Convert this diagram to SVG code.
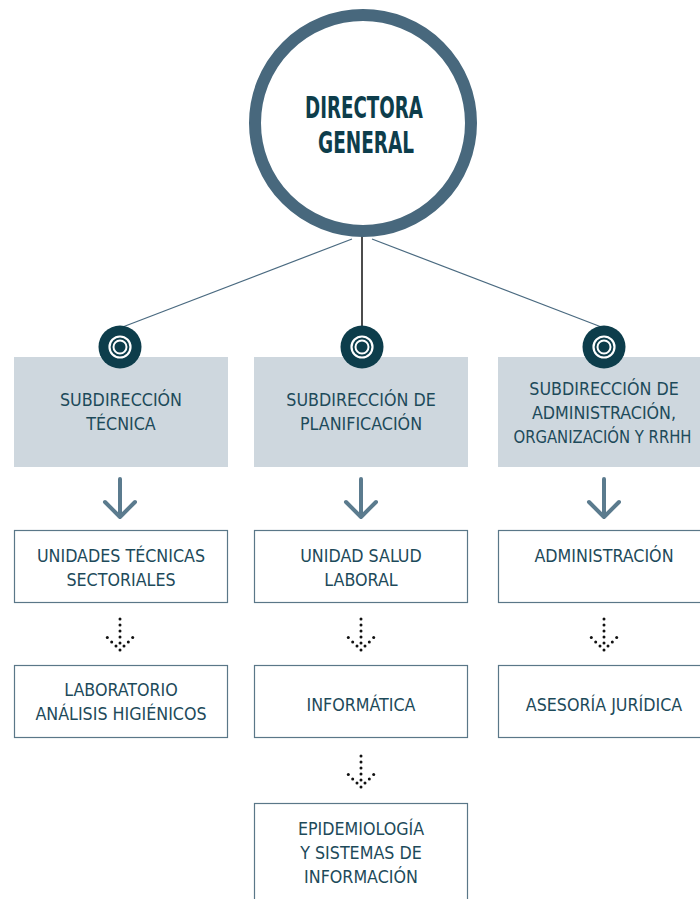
<svg xmlns="http://www.w3.org/2000/svg" width="700" height="899" viewBox="0 0 700 899">
<defs>
<style>
.t{font-family:"DejaVu Sans Condensed","DejaVu Sans",sans-serif;font-stretch:condensed;font-size:17.7px;fill:#1d4a5a;text-anchor:middle}
.h{font-family:"DejaVu Sans Condensed","DejaVu Sans",sans-serif;font-stretch:condensed;font-weight:bold;font-size:31px;fill:#0d3d4b;text-anchor:middle}
.sub{fill:#ced7de}
.box{fill:#fff;stroke:#5a7788;stroke-width:1.2}
.ln{stroke:#4a6a80;stroke-width:1.2;fill:none}
.arr{stroke:#5b7b8e;stroke-width:4;fill:none;stroke-linecap:round;stroke-linejoin:round}
</style>
<g id="icon">
<circle r="21.5" fill="#0d3d4b"/>
<circle r="10.5" fill="none" stroke="#fff" stroke-width="2.2"/>
<circle r="6.5" fill="none" stroke="#fff" stroke-width="2"/>
</g>
<g id="solid">
<path class="arr" d="M0 0 V38 M-15 23 L0 38 L15 23"/>
</g>
<g id="dots" fill="#111">
<circle cx="0" cy="0" r="1.5"/><circle cx="0" cy="6" r="1.5"/><circle cx="0" cy="12" r="1.5"/><circle cx="0" cy="18" r="1.5"/><circle cx="0" cy="24" r="1.5"/><circle cx="0" cy="31" r="1.5"/>
<circle cx="-12.7" cy="18.6" r="1.5"/><circle cx="-8.3" cy="23" r="1.5"/><circle cx="-4" cy="27" r="1.5"/>
<circle cx="12.7" cy="18.6" r="1.5"/><circle cx="8.3" cy="23" r="1.5"/><circle cx="4" cy="27" r="1.5"/>
</g>
</defs>
<rect width="700" height="899" fill="#fff"/>
<g id="connectors">
<line class="ln" x1="352" y1="239" x2="120" y2="328"/>
<line class="ln" x1="372" y1="239" x2="604" y2="328"/>
<line x1="362" y1="234" x2="362" y2="330" stroke="#111" stroke-width="1.5"/>
<use href="#solid" x="120" y="479"/>
<use href="#solid" x="361" y="479"/>
<use href="#solid" x="604" y="479"/>
<use href="#dots" x="120" y="619"/>
<use href="#dots" x="361" y="619"/>
<use href="#dots" x="604" y="619"/>
<use href="#dots" x="361" y="756"/>
</g>
<g id="directora">
<circle cx="363" cy="123" r="108" fill="#fff" stroke="#48687d" stroke-width="12"/>
<text class="h" x="364" y="118" textLength="118" lengthAdjust="spacingAndGlyphs">DIRECTORA</text>
<text class="h" x="366" y="153" textLength="96" lengthAdjust="spacingAndGlyphs">GENERAL</text>
</g>
<g id="sub-tecnica">
<rect class="sub" x="14" y="357" width="214" height="110"/>
<use href="#icon" x="120" y="347"/>
<text class="t" x="121" y="406">SUBDIRECCIÓN</text>
<text class="t" x="121" y="430">TÉCNICA</text>
</g>
<g id="sub-planificacion">
<rect class="sub" x="254" y="357" width="214" height="110"/>
<use href="#icon" x="362" y="347"/>
<text class="t" x="361" y="406">SUBDIRECCIÓN DE</text>
<text class="t" x="361" y="430">PLANIFICACIÓN</text>
</g>
<g id="sub-administracion">
<rect class="sub" x="498" y="357" width="202" height="110"/>
<use href="#icon" x="604" y="347"/>
<text class="t" x="604" y="395">SUBDIRECCIÓN DE</text>
<text class="t" x="604" y="419">ADMINISTRACIÓN,</text>
<text class="t" x="602.5" y="443" textLength="178" lengthAdjust="spacingAndGlyphs">ORGANIZACIÓN Y RRHH</text>
</g>
<g id="unidades">
<rect class="box" x="14.5" y="530.5" width="213" height="72"/>
<text class="t" x="121" y="562">UNIDADES TÉCNICAS</text>
<text class="t" x="121" y="586">SECTORIALES</text>
</g>
<g id="salud">
<rect class="box" x="254.5" y="530.5" width="213" height="72"/>
<text class="t" x="361" y="562">UNIDAD SALUD</text>
<text class="t" x="361" y="586">LABORAL</text>
</g>
<g id="administracion">
<rect class="box" x="498.5" y="530.5" width="210" height="72"/>
<text class="t" x="604" y="562">ADMINISTRACIÓN</text>
</g>
<g id="laboratorio">
<rect class="box" x="14.5" y="665.5" width="213" height="72"/>
<text class="t" x="121" y="696">LABORATORIO</text>
<text class="t" x="121" y="720">ANÁLISIS HIGIÉNICOS</text>
</g>
<g id="informatica">
<rect class="box" x="254.5" y="665.5" width="213" height="72"/>
<text class="t" x="361" y="711">INFORMÁTICA</text>
</g>
<g id="asesoria">
<rect class="box" x="498.5" y="665.5" width="210" height="72"/>
<text class="t" x="604" y="711">ASESORÍA JURÍDICA</text>
</g>
<g id="epidemiologia">
<rect class="box" x="254.5" y="803.5" width="213" height="110"/>
<text class="t" x="361" y="835">EPIDEMIOLOGÍA</text>
<text class="t" x="361" y="859">Y SISTEMAS DE</text>
<text class="t" x="361" y="883">INFORMACIÓN</text>
</g>
</svg>
